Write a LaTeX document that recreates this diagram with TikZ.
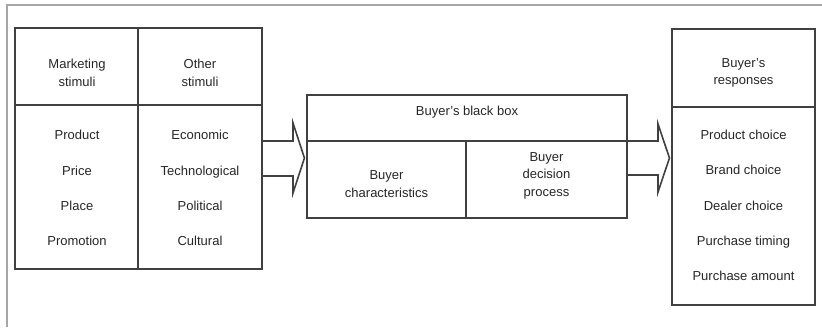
\documentclass[tikz,border=0pt]{standalone}
\usepackage{fontspec}
\setmainfont{Liberation Sans}
\usetikzlibrary{calc}
\tikzset{
  box/.style={draw=black!75,line width=1.1pt,inner sep=0pt},
  lbl/.style={align=center,inner sep=0pt,text=black!85,font=\fontsize{13}{17.5}\selectfont},
  list/.style={align=center,inner sep=0pt,text=black!85,font=\fontsize{13}{35.3}\selectfont},
  hollow/.style={draw=black!75,line width=1.6pt,line join=miter},
  frame/.style={draw=black!35,line width=2pt}
}

\begin{document}
\begin{tikzpicture}[x=1pt,y=-1pt]
    \useasboundingbox (0,0) rectangle (822,327);
    \draw[frame] (7,327) -- (7,5) -- (822,5);

    % stimuli
    \node[box,minimum width=247pt,minimum height=241pt] (stim) at (138.5,148.5) {};
    \draw[box] (stim.north -| 138,0) -- (stim.south -| 138,0);
    \draw[box] (stim.west |- 0,105) -- (stim.east |- 0,105);
    \node[lbl] (mkt) at (77,73) {Marketing\\stimuli};
    \node[lbl] (oth) at (200,73) {Other\\stimuli};
    \node[list] (mix) at (77,188) {Product\\Price\\Place\\Promotion};
    \node[list] (env) at (200,188) {Economic\\Technological\\Political\\Cultural};

    % black box
    \node[box,minimum width=320pt,minimum height=123pt] (bbox) at (467,156.5) {};
    \draw[box] (bbox.west |- 0,141) -- (bbox.east |- 0,141);
    \draw[box] (466,141) -- (bbox.south -| 466,0);
    \node[lbl] (bbt) at (467,112) {Buyer's black box};
    \node[lbl] (char) at (386.5,184) {Buyer\\characteristics};
    \node[lbl] (proc) at (546.5,175.5) {Buyer\\decision\\process};

    % responses
    \node[box,minimum width=143pt,minimum height=276pt] (resp) at (743.5,167) {};
    \draw[box] (resp.west |- 0,107) -- (resp.east |- 0,107);
    \node[lbl] (rhead) at (743.5,73) {Buyer's\\responses};
    \node[list] (rlist) at (743.5,205.5) {Product choice\\Brand choice\\Dealer choice\\Purchase timing\\Purchase amount};

    % arrows
    \draw[hollow] (stim.east |- 0,141) -- (293,141) -- (293,123)
      -- ([xshift=-2pt]bbox.west |- 0,158) -- (293,193) -- (293,176) -- (stim.east |- 0,176);
    \draw[hollow] (bbox.east |- 0,141) -- (658,141) -- (658,124)
      -- ([xshift=-2pt]resp.west |- 0,158) -- (658,192) -- (658,175) -- (bbox.east |- 0,175);
\end{tikzpicture}
\end{document}
